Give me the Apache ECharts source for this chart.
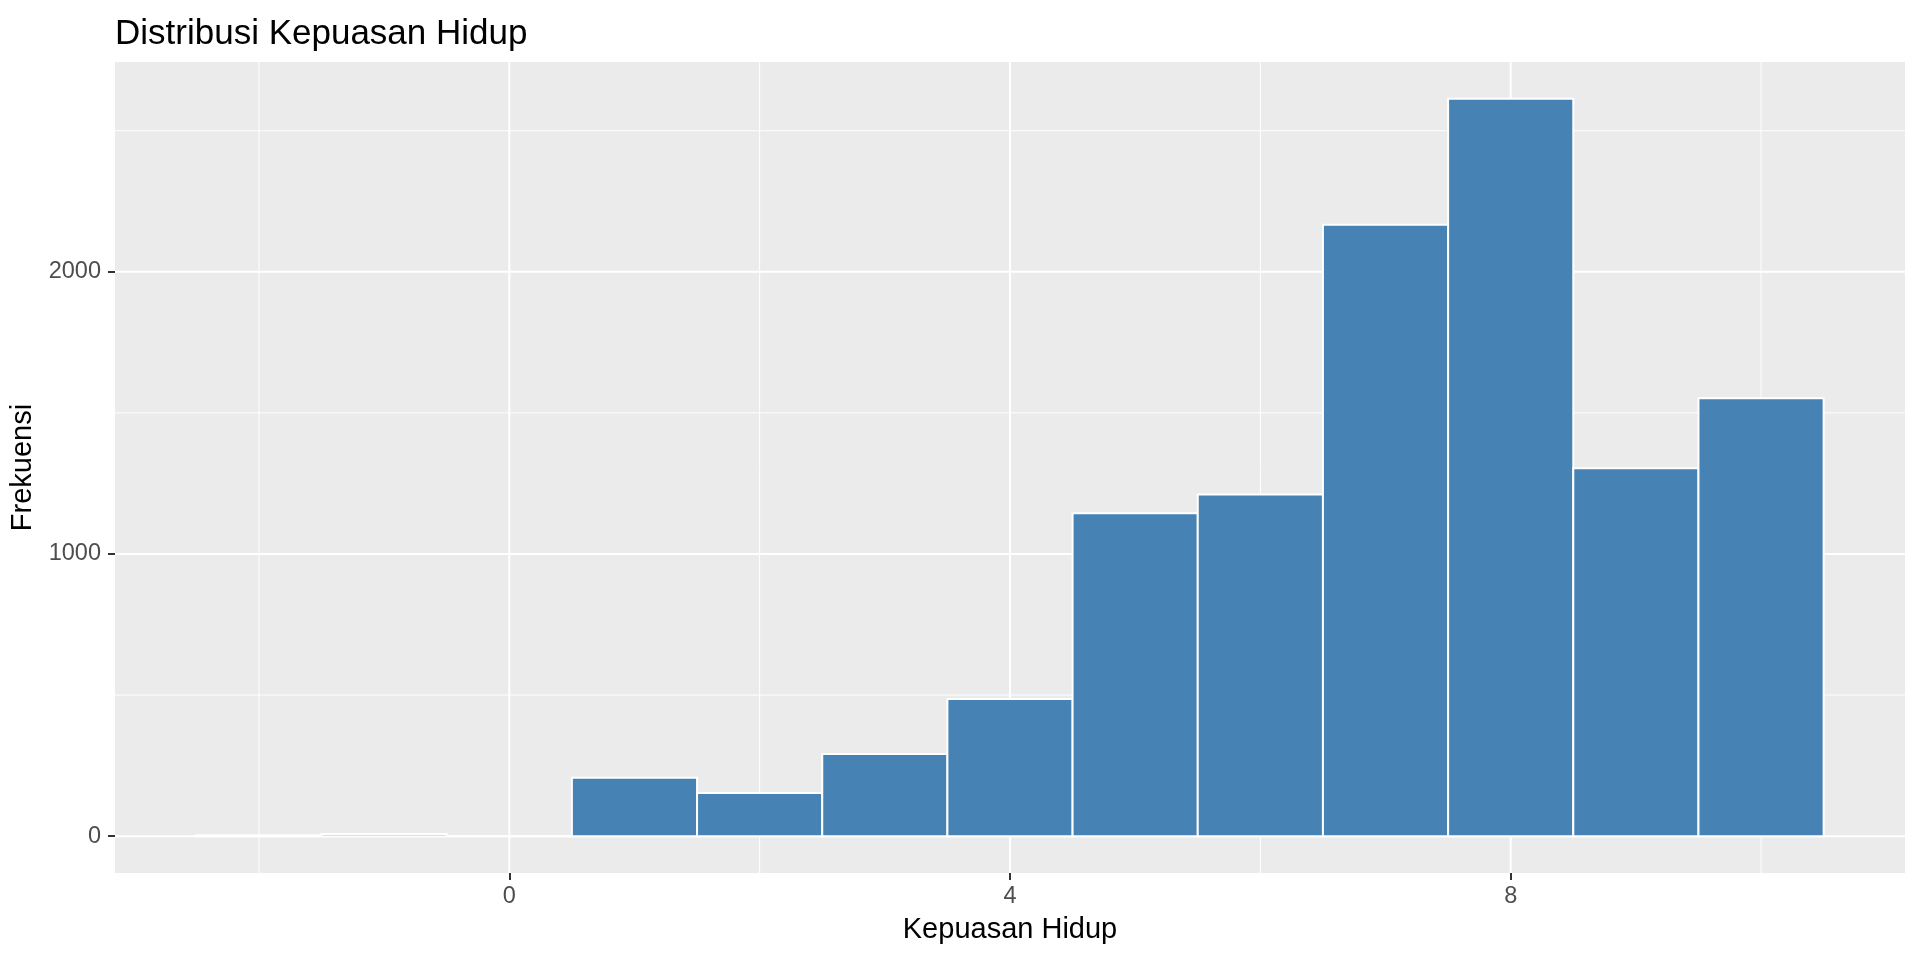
<!DOCTYPE html>
<html>
<head>
<meta charset="utf-8">
<script src="https://cdn.jsdelivr.net/npm/echarts@6/dist/echarts.min.js"></script>
<style>
html,body{margin:0;padding:0;background:#fff;}
#chart{width:1920px;height:960px;}
</style>
</head>
<body>
<div id="chart"></div>
<script>
// Histogram bins (centres) and counts
const binCenters = [-2, -1, 0, 1, 2, 3, 4, 5, 6, 7, 8, 9, 10];
const counts     = [3, 8, 0, 207, 153, 291, 486, 1144, 1211, 2167, 2613, 1304, 1552];
const binWidth = 1;

// Axis ticks
const xMajorTicks = [0, 4, 8];
const xMinorTicks = [-2, 2, 6, 10];
const yMajorTicks = [0, 1000, 2000];
const yMinorTicks = [500, 1500, 2500];

// Axis limits (ggplot default 5% expansion)
const xMin = -3.15, xMax = 11.15;
const yMax0 = Math.max(...counts);
const yMin = -0.05 * yMax0, yMax = 1.05 * yMax0;

const FONT = "'Liberation Sans', Arial, sans-serif";

const barData = binCenters.map((c, i) => [c - binWidth / 2, c + binWidth / 2, counts[i]]);

const gridData = [];
xMajorTicks.forEach(v => gridData.push([v, 0, 'x', 2]));
xMinorTicks.forEach(v => gridData.push([v, 0, 'x', 1]));
yMajorTicks.forEach(v => gridData.push([0, v, 'y', 2]));
yMinorTicks.forEach(v => gridData.push([0, v, 'y', 1]));

const chart = echarts.init(document.getElementById('chart'), null, {renderer: 'canvas'});
chart.setOption({
  animation: false,
  backgroundColor: '#ffffff',
  title: {
    text: 'Distribusi Kepuasan Hidup',
    left: 110,
    top: 12,
    textStyle: {fontFamily: FONT, fontSize: 35, fontWeight: 'normal', color: '#000000'}
  },
  grid: {
    left: 115, right: 15, top: 62, bottom: 87,
    outerBoundsMode: 'none',
    containLabel: false,
    show: true, backgroundColor: '#EBEBEB', borderWidth: 0
  },
  xAxis: {
    type: 'value', min: xMin, max: xMax,
    name: 'Kepuasan Hidup', nameLocation: 'middle', nameGap: 42,
    nameTextStyle: {fontFamily: FONT, fontSize: 29, color: '#000000'},
    axisLine: {show: false, onZero: false},
    splitLine: {show: false},
    axisTick: {show: true, length: 7, customValues: xMajorTicks, lineStyle: {color: '#333333', width: 2}},
    axisLabel: {show: true, customValues: xMajorTicks, margin: 12, fontFamily: FONT, fontSize: 23.5, color: '#4D4D4D',
                formatter: v => String(v)}
  },
  yAxis: {
    type: 'value', min: yMin, max: yMax,
    name: 'Frekuensi', nameLocation: 'middle', nameGap: 73, nameRotate: 90,
    nameTextStyle: {fontFamily: FONT, fontSize: 29, color: '#000000'},
    axisLine: {show: false, onZero: false},
    splitLine: {show: false},
    axisTick: {show: true, length: 7, customValues: yMajorTicks, lineStyle: {color: '#333333', width: 2}},
    axisLabel: {show: true, customValues: yMajorTicks, margin: 14, fontFamily: FONT, fontSize: 23.5, color: '#4D4D4D',
                formatter: v => String(v)}
  },
  series: [
    {
      type: 'custom',
      silent: true,
      z: 1,
      data: gridData,
      encode: {x: 0, y: 1},
      renderItem: function (params, api) {
        const cs = params.coordSys;
        const kind = api.value(2);
        const w = api.value(3);
        if (kind === 'x') {
          const x = api.coord([api.value(0), 0])[0];
          return {type: 'line', shape: {x1: x, y1: cs.y, x2: x, y2: cs.y + cs.height},
                  style: {stroke: '#FFFFFF', lineWidth: w}};
        } else {
          const y = api.coord([0, api.value(1)])[1];
          return {type: 'line', shape: {x1: cs.x, y1: y, x2: cs.x + cs.width, y2: y},
                  style: {stroke: '#FFFFFF', lineWidth: w}};
        }
      }
    },
    {
      type: 'custom',
      z: 2,
      data: barData,
      encode: {x: [0, 1], y: 2},
      renderItem: function (params, api) {
        const p0 = api.coord([api.value(0), 0]);
        const p1 = api.coord([api.value(1), api.value(2)]);
        return {
          type: 'rect',
          shape: {x: p0[0], y: p1[1], width: p1[0] - p0[0], height: p0[1] - p1[1]},
          style: {fill: '#4682B4', stroke: '#FFFFFF', lineWidth: 2}
        };
      }
    }
  ]
});
</script>
</body>
</html>
